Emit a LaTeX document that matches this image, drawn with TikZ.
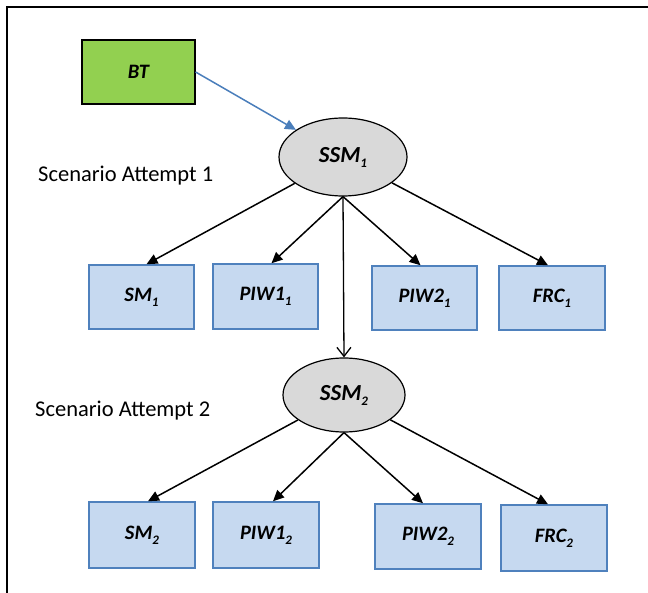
\documentclass[tikz,border=0pt]{standalone}
\usepackage{fontspec}
\setmainfont{Carlito}
\usetikzlibrary{arrows.meta,shapes.geometric}

\definecolor{btgreen}{HTML}{92D050}
\definecolor{boxfill}{HTML}{C6D9F0}
\definecolor{boxline}{HTML}{4F81BD}
\definecolor{ellfill}{HTML}{D9D9D9}
\definecolor{bluearrow}{HTML}{4A7EBB}

\newcommand\lowsub[1]{\raisebox{-5pt}{\fontsize{13}{13}\selectfont #1}}

\tikzset{
  lbl/.style={font=\fontsize{20.5}{24}\selectfont\bfseries\itshape, text=black},
  leafbox/.style={lbl, draw=boxline, fill=boxfill, line width=1.5pt,
    rectangle, inner sep=0pt},
  statebox/.style={lbl, ellipse, draw=black, fill=ellfill, line width=1.2pt,
    inner sep=0pt, font=\fontsize{23}{26}\selectfont\bfseries\itshape},
  srcbox/.style={lbl, draw=black, fill=btgreen, line width=1.2pt,
    rectangle, inner sep=0pt},
  link/.style={draw=black, line width=1.5pt,
    -{Triangle[length=11pt,width=10pt]}},
  chain/.style={draw=black, line width=1.3pt,
    -{Straight Barb[length=9pt,width=14pt,line width=1.3pt]}},
  feed/.style={draw=bluearrow, line width=1.5pt,
    -{Triangle[length=11pt,width=10pt]}},
  caption/.style={font=\fontsize{22.5}{25}\selectfont, anchor=west, inner sep=0pt}
}

\begin{document}
\begin{tikzpicture}[x=1pt,y=-1pt]
\useasboundingbox (0,0) rectangle (648,593);
\fill[white] (0,0) rectangle (648,593);

% frame edges
\draw[line width=2pt] (7,593) -- (7,7) -- (648,7);

% source and scenario states
\node[srcbox, minimum width=113pt, minimum height=64pt] (BT) at (138.5,72) {BT};
\node[statebox, minimum width=128pt, minimum height=78pt] (SSM1) at (343,157) {SSM\lowsub{1}};
\node[statebox, minimum width=122pt, minimum height=74pt] (SSM2) at (344,395) {SSM\lowsub{2}};

% captions
\node[caption] (cap1) at (38,176) {Scenario Attempt 1};
\node[caption] (cap2) at (35,411) {Scenario Attempt 2};

% first attempt outcomes
\node[leafbox, minimum width=105pt, minimum height=64pt] (SMa) at (141.5,297) {SM\lowsub{1}};
\node[leafbox, minimum width=105pt, minimum height=65pt] (PIWa) at (265.5,296.5) {PIW1\lowsub{1}};
\node[leafbox, minimum width=105pt, minimum height=64pt] (PIWb) at (424.5,298) {PIW2\lowsub{1}};
\node[leafbox, minimum width=106pt, minimum height=64pt] (FRCa) at (552,298) {FRC\lowsub{1}};

% second attempt outcomes
\node[leafbox, minimum width=106pt, minimum height=66pt] (SMb) at (142,535) {SM\lowsub{2}};
\node[leafbox, minimum width=106pt, minimum height=66pt] (PIWc) at (266,535) {PIW1\lowsub{2}};
\node[leafbox, minimum width=106pt, minimum height=65pt] (PIWd) at (428,536.5) {PIW2\lowsub{2}};
\node[leafbox, minimum width=106pt, minimum height=66pt] (FRCb) at (554,538) {FRC\lowsub{2}};

% connectors
\draw[feed] (BT.east) -- (SSM1);

\draw[link] (SSM1) -- ([xshift=5pt]SMa.north);
\draw[link] (SSM1.south) -- ([xshift=6pt]PIWa.north);
\draw[link] (SSM1.south) -- ([xshift=-4pt]PIWb.north);
\draw[link] (SSM1) -- ([xshift=-4pt]FRCa.north);
\draw[chain] (SSM1.south) -- (SSM2.north);

\draw[link] (SSM2) -- ([xshift=6pt]SMb.north);
\draw[link] (SSM2.south) -- ([xshift=7pt]PIWc.north);
\draw[link] (SSM2.south) -- ([xshift=-5pt]PIWd.north);
\draw[link] (SSM2) -- ([xshift=-6pt]FRCb.north);
\end{tikzpicture}
\end{document}
